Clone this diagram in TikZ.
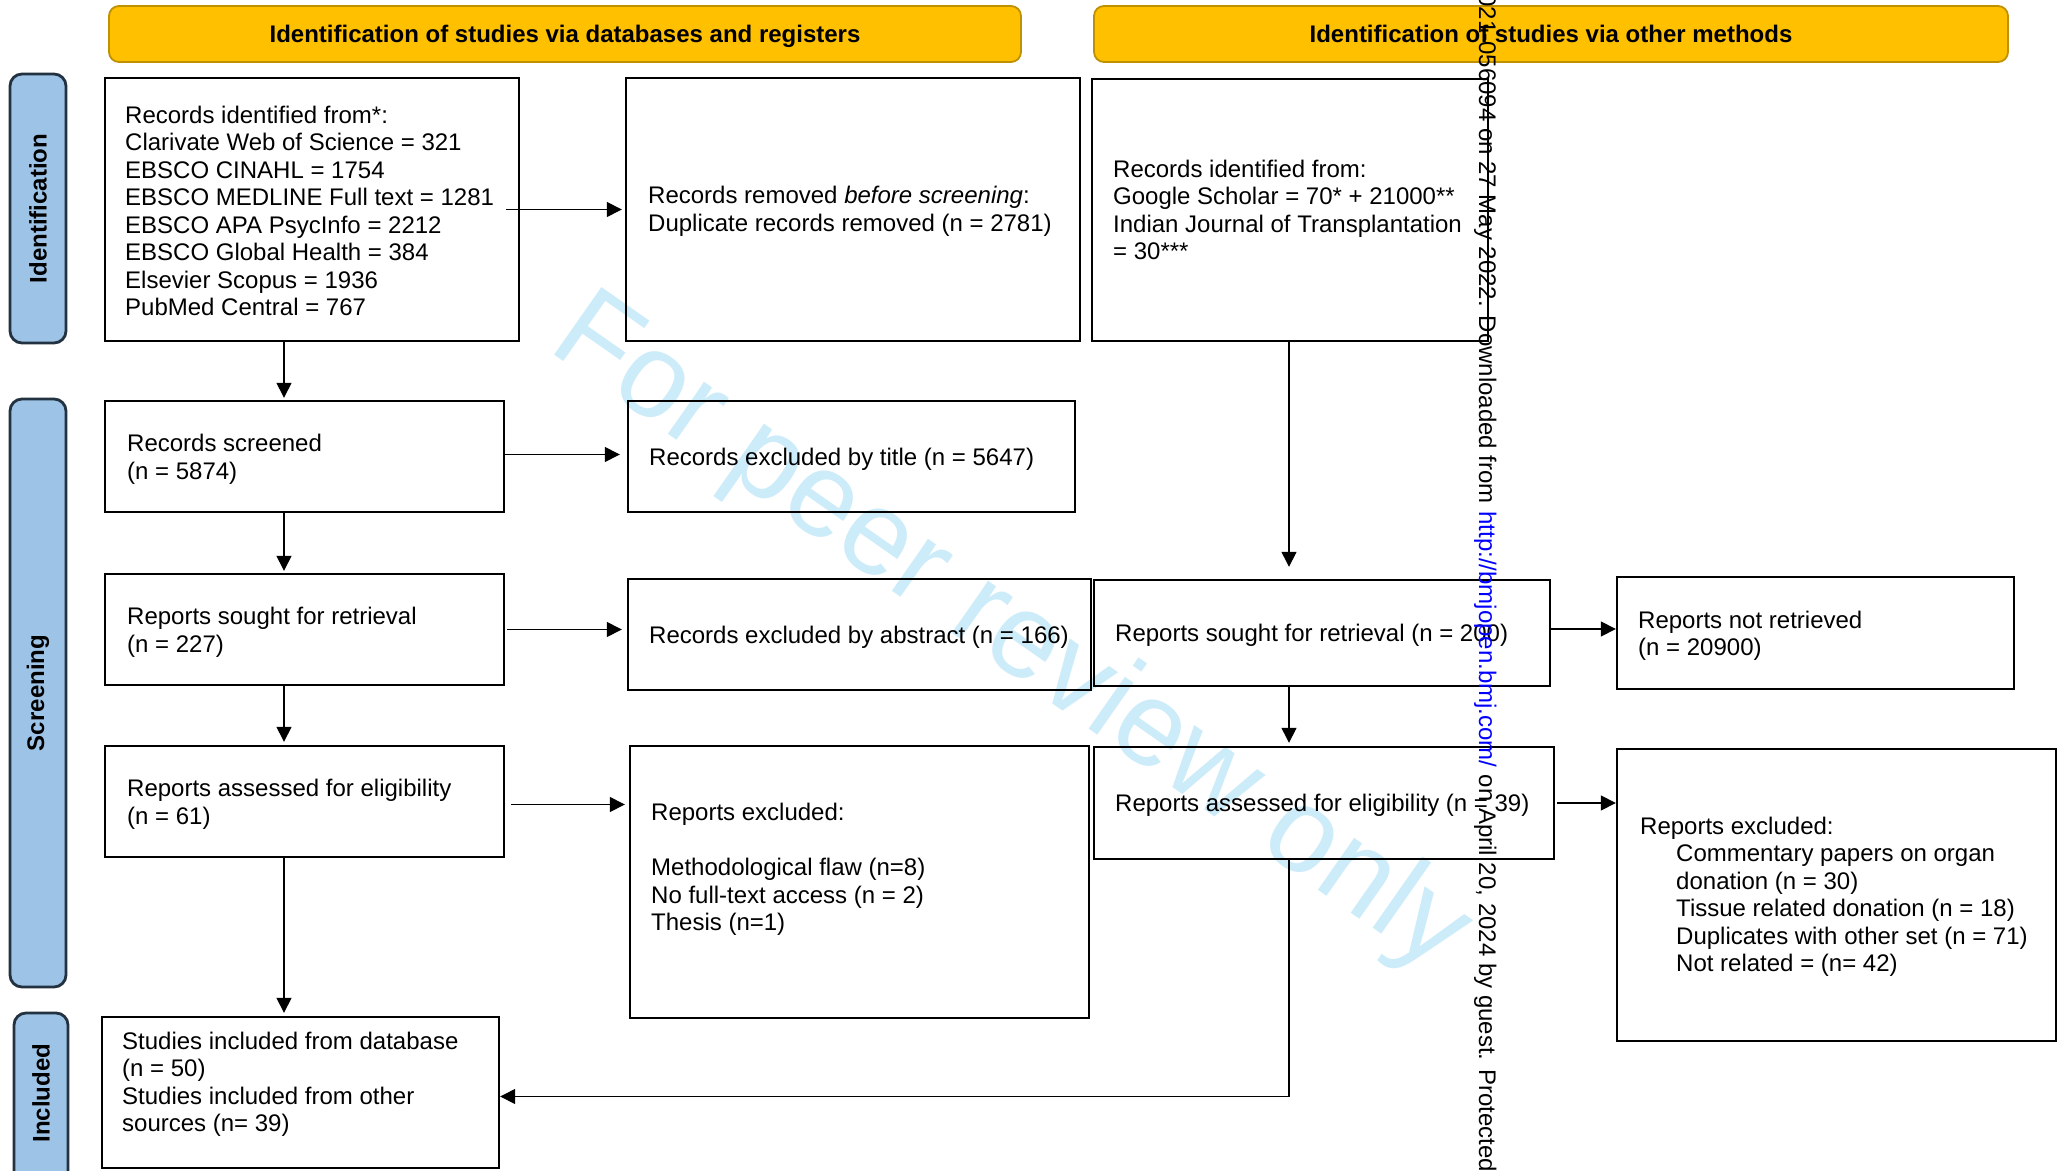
\documentclass[tikz,border=0pt]{standalone}
\usepackage{fontspec}
\setmainfont{Liberation Sans}
\usetikzlibrary{arrows.meta,calc,fit}
\definecolor{hdr}{HTML}{FFC000}
\definecolor{hdrline}{HTML}{BF9000}
\definecolor{sidefill}{HTML}{9DC3E6}
\definecolor{sideline}{RGB}{35,50,65}
\definecolor{wmcol}{RGB}{205,236,250}
\definecolor{urlblue}{RGB}{0,0,255}
\begin{document}
\begin{tikzpicture}[x=0.5pt,y=-0.5pt,
  box/.style={draw=black, line width=1.2pt, inner sep=0pt},
  hdrbox/.style={draw=hdrline, fill=hdr, line width=0.9pt, rounded corners=5pt, inner sep=0pt},
  sidebox/.style={draw=sideline, fill=sidefill, line width=1.4pt, rounded corners=6pt, inner sep=0pt},
  txt/.style={inner sep=0pt, align=left, anchor=west, yshift=-1.3pt, font=\fontsize{12pt}{13.75pt}\selectfont},
  hdrtxt/.style={inner sep=0pt, anchor=base, font=\bfseries\fontsize{12pt}{14pt}\selectfont},
  sidetxt/.style={inner sep=0pt, rotate=90, font=\bfseries\fontsize{12pt}{14pt}\selectfont},
  vtxt/.style={inner sep=0pt, rotate=-90, font=\fontsize{12pt}{14pt}\selectfont},
  wmark/.style={inner sep=0pt, rotate=-35, text=wmcol, font=\fontsize{60pt}{62pt}\selectfont},
  arr/.style={-{Triangle[length=7.5pt,width=7.5pt]}, line width=0.7pt},
  ln/.style={line width=0.7pt}]
\useasboundingbox (0,0) rectangle (2060,1171);
\fill[white] (0,0) rectangle (2060,1171);
\clip (0,0) rectangle (2060,1171);

% watermark
\node[wmark] (wm) at (1010,636) {For peer review only};

% headers
\node[hdrbox, fit={(109,6) (1021,62)}] (H1) {};
\node[hdrtxt] (H1t) at ($(H1.center)+(0,8.5)$) {Identification of studies via databases and registers};
\node[hdrbox, fit={(1094,6) (2008,62)}] (H2) {};
\node[hdrtxt] (H2t) at ($(H2.center)+(0,8.5)$) {Identification of studies via other methods};

% side labels
\node[sidebox, fit={(10,74) (66,343)}] (L1) {};
\node[sidetxt] (L1t) at (L1.center) {Identification};
\node[sidebox, fit={(10,399) (66,987)}] (L2) {};
\node[sidetxt] (L2t) at (L2.center) {Screening};
\node[sidebox, fit={(14,1013) (68,1200)}] (L3) {};
\node[sidetxt] (L3t) at ($(L3.north)!0.5!(L3.north |- 0,1175)$) {Included};

% boxes
\node[box, fit={(105,78) (519,341)}] (A) {};
\node[box, fit={(626,78) (1080,341)}] (B) {};
\node[box, fit={(1092,79) (1488,341)}] (C) {};
\node[box, fit={(105,401) (504,512)}] (S) {};
\node[box, fit={(628,401) (1075,512)}] (T) {};
\node[box, fit={(105,574) (504,685)}] (R) {};
\node[box, fit={(628,579) (1091,690)}] (Ab) {};
\node[box, fit={(105,746) (504,857)}] (El) {};
\node[box, fit={(630,746) (1089,1018)}] (X) {};
\node[box, fit={(1094,580) (1550,686)}] (D) {};
\node[box, fit={(1617,577) (2014,689)}] (E) {};
\node[box, fit={(1094,747) (1554,859)}] (F) {};
\node[box, fit={(1617,749) (2056,1041)}] (G) {};
\node[box, fit={(102,1017) (499,1168)}] (I) {};

% texts
\node[txt] (At) at ($(A.west)+(21,-1)$) {Records identified from*:\\ Clarivate Web of Science = 321\\ EBSCO CINAHL = 1754\\ EBSCO MEDLINE Full text = 1281\\ EBSCO APA PsycInfo = 2212\\ EBSCO Global Health = 384\\ Elsevier Scopus = 1936\\ PubMed Central = 767};
\node[txt] (Bt) at ($(B.west)+(23,-1)$) {Records removed \textit{before screening}:\\ Duplicate records removed (n = 2781)};
\node[txt] (Ct) at ($(C.west)+(22,-2.5)$) {Records identified from:\\ Google Scholar = 70* + 21000**\\ Indian Journal of Transplantation\\ = 30***};
\node[txt] (St) at ($(S.west)+(23,0)$) {Records screened\\ (n = 5874)};
\node[txt] (Tt) at ($(T.west)+(22,0)$) {Records excluded by title (n = 5647)};
\node[txt] (Rt) at ($(R.west)+(23,0)$) {Reports sought for retrieval\\ (n = 227)};
\node[txt] (Abt) at ($(Ab.west)+(22,0)$) {Records excluded by abstract (n = 166)};
\node[txt] (Elt) at ($(El.west)+(23,0)$) {Reports assessed for eligibility\\ (n = 61)};
\node[txt] (Xt) at ($(X.west)+(22,-15)$) {Reports excluded:\\[13.75pt] Methodological flaw (n=8)\\ No full-text access (n = 2)\\ Thesis (n=1)};
\node[txt] (Dt) at ($(D.west)+(22,0)$) {Reports sought for retrieval (n = 200)};
\node[txt] (Et) at ($(E.west)+(22,0)$) {Reports not retrieved\\ (n = 20900)};
\node[txt] (Ft) at ($(F.west)+(22,0)$) {Reports assessed for eligibility (n = 39)};
\node[txt] (Gt) at ($(G.west)+(24,-1)$) {Reports excluded:\\ \hspace*{18pt}Commentary papers on organ\\ \hspace*{18pt}donation (n = 30)\\ \hspace*{18pt}Tissue related donation (n = 18)\\ \hspace*{18pt}Duplicates with other set (n = 71)\\ \hspace*{18pt}Not related = (n= 42)};
\node[txt] (It) at ($(I.west)+(21,-11)$) {Studies included from database\\ (n = 50)\\ Studies included from other\\ sources (n= 39)};

% connectors
\coordinate (colL) at (284,0);
\coordinate (colR) at (1289,0);
\draw[arr, shorten <=-7pt, shorten >=1.5pt] (A.east) -- (B.west);
\draw[arr, shorten >=3.5pt] ($(S.east)+(0,-2)$) -- ($(S.east -| T.west)+(0,-2)$);
\draw[arr, shorten <=1pt, shorten >=2.5pt] (R.east) -- (R.east -| Ab.west);
\draw[arr, shorten <=3pt, shorten >=2pt] ($(El.east)+(0,3)$) -- ($(El.east -| X.west)+(0,3)$);
\draw[arr] ($(D.east)+(0,-4)$) -- ($(D.east -| E.west)+(0,-4)$);
\draw[arr, shorten <=1pt] (F.east) -- (F.east -| G.west);
\draw[arr, shorten >=1pt] (A.south -| colL) -- (S.north -| colL);
\draw[arr, shorten >=1pt] (S.south -| colL) -- (R.north -| colL);
\draw[arr, shorten >=1.5pt] (R.south -| colL) -- (El.north -| colL);
\draw[arr, shorten >=1.5pt] (El.south -| colL) -- (I.north -| colL);
\draw[arr, shorten >=6pt] (C.south -| colR) -- (D.north -| colR);
\draw[arr, shorten >=1.5pt] (D.south -| colR) -- (F.north -| colR);
\draw[arr] (F.south -| colR) |- ($(I.east)+(0,4)$);

% vertical side text
\node[vtxt, anchor=base west, text=urlblue] (vt2) at (1479,511) {http://bmjopen.bmj.com/};
\node[vtxt, anchor=base east] (vt1) at (vt2.base west) {021-056094 on 27 May 2022. Downloaded from\kern0.278em};
\node[vtxt, anchor=base west] (vt3) at (vt2.base east) {\kern0.278em on April 20, 2024 by guest. Protected};
\end{tikzpicture}
\end{document}
